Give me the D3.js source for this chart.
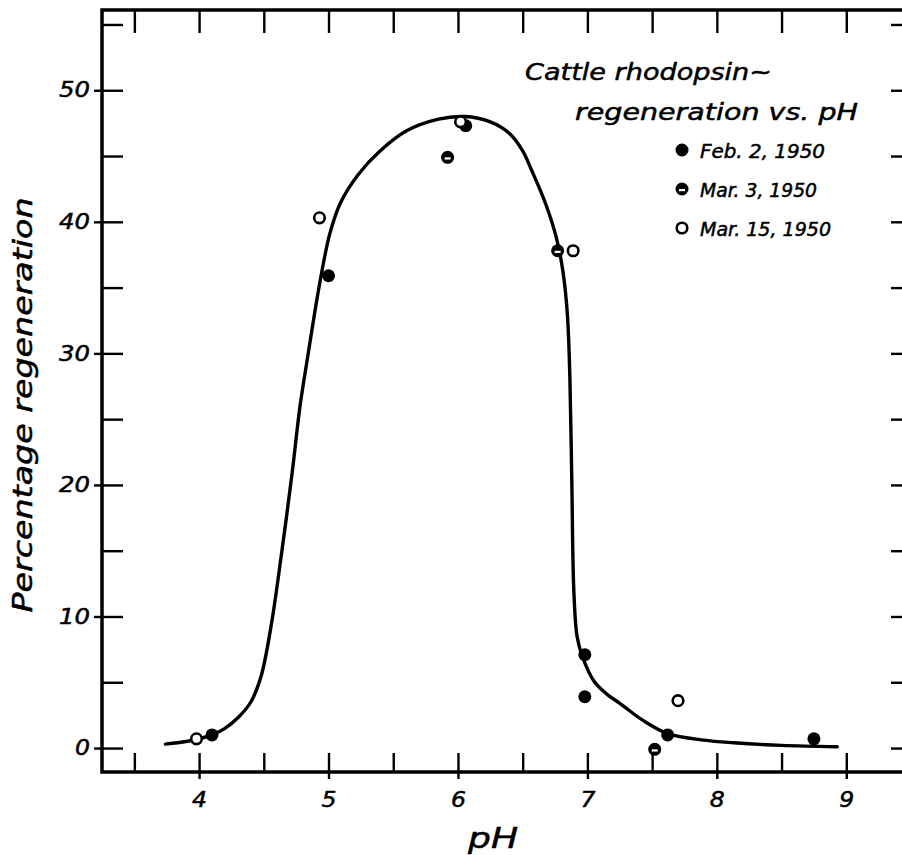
<!DOCTYPE html>
<html>
<head>
<meta charset="utf-8">
<script src="https://cdn.jsdelivr.net/npm/d3@7"></script>
<style>
  body { margin: 0; background: #fff; }
  svg text { font-family: "DejaVu Sans", sans-serif; font-style: italic; fill: #000; stroke: #000; stroke-width: 0.5px; }
  .tick text { font-size: 21px; }
</style>
</head>
<body>
<svg id="chart" width="902" height="855"></svg>
<script>
// measured points [pH, % regeneration]
const feb2 = [[4.10, 1.0], [5.00, 35.9], [6.06, 47.3], [6.98, 7.1], [6.98, 3.9], [7.62, 1.0], [8.75, 0.7]];
const mar3 = [[5.92, 44.9], [6.77, 37.8], [7.52, -0.1]];
const mar15 = [[3.98, 0.7], [4.93, 40.3], [6.02, 47.6], [6.89, 37.8], [7.70, 3.6]];

// hand drawn fit line
const fitCurve = [
  [3.74, 0.3], [3.9, 0.5], [4.0, 0.7], [4.1, 1.0], [4.2, 1.5], [4.3, 2.3], [4.4, 3.5],
  [4.48, 5.5], [4.56, 9.5], [4.64, 15], [4.72, 21], [4.78, 26], [4.84, 29.8], [4.9, 33.5],
  [4.95, 36.3], [5.01, 39.1], [5.09, 41.4], [5.23, 43.6], [5.4, 45.4], [5.6, 46.9],
  [5.85, 47.8], [6.05, 48.0], [6.25, 47.6], [6.4, 46.7], [6.5, 45.4], [6.57, 43.9],
  [6.68, 41.3], [6.76, 38.8], [6.81, 36.3], [6.845, 33], [6.865, 28], [6.88, 20],
  [6.895, 12], [6.92, 8.5], [6.96, 7.0], [7.05, 5.1], [7.15, 4.1], [7.25, 3.4],
  [7.43, 2.1], [7.62, 1.1], [7.9, 0.6], [8.13, 0.4], [8.5, 0.2], [8.93, 0.1]
];

const xLabelTicks = [4, 5, 6, 7, 8, 9];
const xSmallTicks = [3.5, 4, 4.5, 5, 5.5, 6, 6.5, 7, 7.5, 8, 8.5, 9, 9.5];
const yLabelTicks = [0, 10, 20, 30, 40, 50];
const ySmallTicks = [0, 5, 10, 15, 20, 25, 30, 35, 40, 45, 50, 55];

const legendNames = ["Feb. 2, 1950", "Mar. 3, 1950", "Mar. 15, 1950"];
const titleLines = ["Cattle rhodopsin~", "regeneration vs. pH"];

const svg = d3.select("#chart");

// frame goes from pH 3.25 to 9.5 and from -1.8 to 56 %
var x = d3.scaleLinear().domain([3.25, 9.5]).range([102, 911]);
var y = d3.scaleLinear().domain([-1.82, 56.1]).range([772, 10]);

// frame
svg.append("rect")
  .attr("x", x(3.25)).attr("y", y(56.1))
  .attr("width", x(9.5) - x(3.25)).attr("height", y(-1.82) - y(56.1))
  .attr("fill", "none").attr("stroke", "#000").attr("stroke-width", 3.5);

function styleAxis(g) {
  g.select(".domain").remove();
  g.selectAll(".tick line").attr("stroke", "#000").attr("stroke-width", 2.4);
  // lettering in the original is wide, stretch the digits a bit
  g.selectAll(".tick text")
    .attr("textLength", function(d) { return String(d).length > 1 ? 31 : 15; })
    .attr("lengthAdjust", "spacingAndGlyphs");
}

// bottom: inward ticks every 0.5, outward bit + labels at whole numbers
svg.append("g").attr("transform", "translate(0," + y(-1.82) + ")")
  .call(d3.axisBottom(x).tickValues(xSmallTicks).tickSize(-19).tickFormat(""))
  .call(styleAxis);
svg.append("g").attr("transform", "translate(0," + y(-1.82) + ")")
  .call(d3.axisBottom(x).tickValues(xLabelTicks).tickSize(7).tickPadding(13).tickFormat(d3.format("d")))
  .call(styleAxis);

// top
svg.append("g").attr("transform", "translate(0," + y(56.1) + ")")
  .call(d3.axisTop(x).tickValues(xSmallTicks).tickSize(-23).tickFormat(""))
  .call(styleAxis);

// left
svg.append("g").attr("transform", "translate(" + x(3.25) + ",0)")
  .call(d3.axisLeft(y).tickValues(ySmallTicks).tickSize(-21).tickFormat(""))
  .call(styleAxis);
svg.append("g").attr("transform", "translate(" + x(3.25) + ",0)")
  .call(d3.axisLeft(y).tickValues(yLabelTicks).tickSize(8).tickPadding(4).tickFormat(d3.format("d")))
  .call(styleAxis);

// right
svg.append("g").attr("transform", "translate(" + x(9.5) + ",0)")
  .call(d3.axisRight(y).tickValues(ySmallTicks).tickSize(-20).tickFormat(""))
  .call(styleAxis);

// fit line
var line = d3.line()
  .x(function(d) { return x(d[0]); })
  .y(function(d) { return y(d[1]); })
  .curve(d3.curveCatmullRom.alpha(0.5));
svg.append("path").datum(fitCurve)
  .attr("d", line)
  .attr("fill", "none").attr("stroke", "#000").attr("stroke-width", 3.4)
  .attr("stroke-linecap", "round");

// symbols
function solidDot(sel) {
  sel.append("circle").attr("r", 6.5).attr("fill", "#000");
}
function halfDot(sel) {
  sel.append("circle").attr("r", 6.5).attr("fill", "#000");
  sel.append("rect").attr("x", -3).attr("y", 0).attr("width", 6).attr("height", 2.2).attr("fill", "#fff");
}
function openDot(sel) {
  sel.append("circle").attr("r", 5.3).attr("fill", "#fff").attr("stroke", "#000").attr("stroke-width", 2.6);
}
const symbolFns = [solidDot, halfDot, openDot];

[feb2, mar3, mar15].forEach(function(series, i) {
  svg.append("g").selectAll("g").data(series)
    .enter().append("g")
    .attr("transform", function(d) { return "translate(" + x(d[0]) + "," + y(d[1]) + ")"; })
    .each(function() { symbolFns[i](d3.select(this)); });
});

// title + legend
svg.append("text").attr("x", 525).attr("y", 80)
  .attr("font-size", 23).attr("textLength", 247).attr("lengthAdjust", "spacingAndGlyphs")
  .text(titleLines[0]);
svg.append("text").attr("x", 575).attr("y", 120)
  .attr("font-size", 23).attr("textLength", 283).attr("lengthAdjust", "spacingAndGlyphs")
  .text(titleLines[1]);

const legendWidths = [125, 117, 131];
legendNames.forEach(function(name, i) {
  var row = svg.append("g").attr("transform", "translate(682," + (150 + i * 39) + ")");
  symbolFns[i](row);
  row.append("text").attr("x", 18).attr("y", 8)
    .attr("font-size", 19).attr("textLength", legendWidths[i]).attr("lengthAdjust", "spacingAndGlyphs")
    .text(name);
});

// axis titles
svg.append("text").attr("x", 493).attr("y", 848)
  .attr("text-anchor", "middle").attr("font-size", 29)
  .attr("textLength", 50).attr("lengthAdjust", "spacingAndGlyphs")
  .text("pH");
svg.append("text")
  .attr("transform", "translate(32,405) rotate(-90)")
  .attr("text-anchor", "middle").attr("font-size", 26)
  .attr("textLength", 415).attr("lengthAdjust", "spacingAndGlyphs")
  .text("Percentage regeneration");
</script>
</body>
</html>
